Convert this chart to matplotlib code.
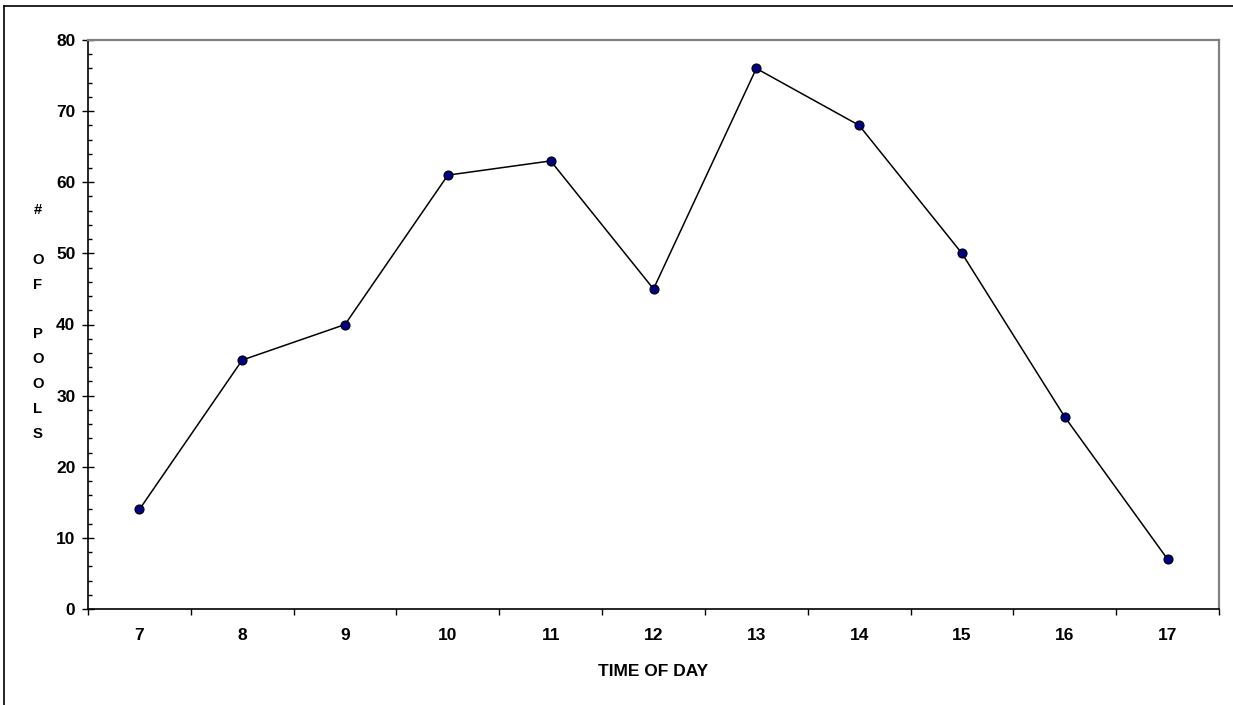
import matplotlib.pyplot as plt
from matplotlib.lines import Line2D
from matplotlib.ticker import MultipleLocator, FixedLocator, NullFormatter

horas = [7, 8, 9, 10, 11, 12, 13, 14, 15, 16, 17]
piscinas = [14, 35, 40, 61, 63, 45, 76, 68, 50, 27, 7]
rotulo_y = ["#", "", "O", "F", "", "P", "O", "O", "L", "S"]

plt.rcParams['font.family'] = ['Liberation Sans', 'DejaVu Sans']
plt.rcParams['font.weight'] = 'bold'

W, H = 1233, 705
fig = plt.figure(figsize=(W / 100, H / 100), dpi=100)
ax = fig.add_axes([88 / W, 1 - 609 / H, (1219 - 88) / W, (609 - 40) / H])

pos = list(range(len(horas)))
ax.plot(pos, piscinas, color='black', lw=1.1, marker='o', markersize=6.5,
        markerfacecolor='#000080', markeredgecolor='black', markeredgewidth=0.8,
        clip_on=False, zorder=3)

ax.set_xlim(-0.5, len(horas) - 0.5)
ax.set_ylim(0, 80)

# categorias: marcas entre as categorias, rotulos no centro
ax.xaxis.set_major_locator(FixedLocator([p - 0.5 for p in range(len(horas) + 1)]))
ax.xaxis.set_major_formatter(NullFormatter())
ax.xaxis.set_minor_locator(FixedLocator(pos))
ax.set_xticklabels([str(h) for h in horas], minor=True)
ax.tick_params(axis='x', which='major', direction='out', length=4, width=1, color='black')
ax.tick_params(axis='x', which='minor', length=0, pad=14, labelsize=12.5)

ax.yaxis.set_major_locator(MultipleLocator(10))
ax.yaxis.set_minor_locator(MultipleLocator(2))
ax.tick_params(axis='y', which='major', direction='inout', length=8, width=1,
               pad=5, labelsize=12.5)
ax.tick_params(axis='y', which='minor', direction='in', length=3, width=1)

for lado in ['left', 'bottom']:
    ax.spines[lado].set_color('black')
    ax.spines[lado].set_linewidth(1.2)
for lado in ['top', 'right']:
    ax.spines[lado].set_color('#808080')
    ax.spines[lado].set_linewidth(1.6)

ax.set_xlabel("TIME OF DAY", fontsize=12.5, fontweight='bold')
ax.xaxis.set_label_coords(0.5, (609 - 664) / (609 - 40))
ax.xaxis.label.set_va('top')

for i, letra in enumerate(rotulo_y):
    if letra:
        fig.text(38 / W, 1 - (210 + 24.9 * i) / H, letra, fontsize=10.7,
                 fontweight='bold', ha='center', va='center')

# moldura externa
fig.add_artist(Line2D([4 / W, 4 / W], [1 - 6 / H, 0], color='black', lw=1.2,
                      transform=fig.transFigure))
fig.add_artist(Line2D([4 / W, 1], [1 - 6 / H, 1 - 6 / H], color='black', lw=1.2,
                      transform=fig.transFigure))

fig.savefig('out.png', dpi=100)
